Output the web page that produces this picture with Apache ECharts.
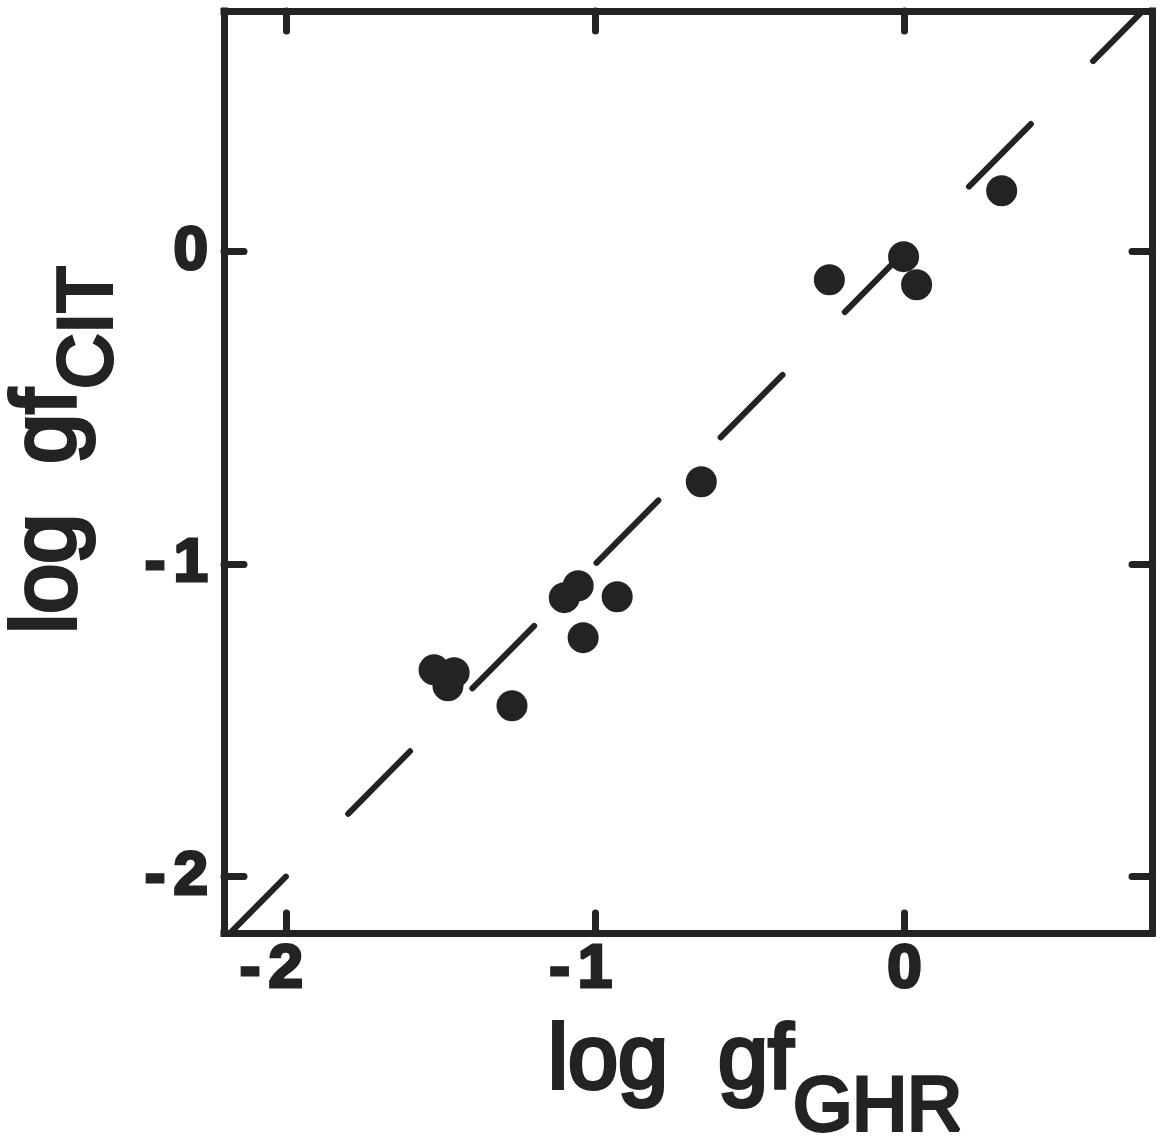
<!DOCTYPE html>
<html>
<head>
<meta charset="utf-8">
<script src="https://cdn.jsdelivr.net/npm/echarts@6/dist/echarts.min.js"></script>
<style>
html,body{margin:0;padding:0;background:#ffffff;}
#chart{width:1162px;height:1142px;}
</style>
</head>
<body>
<div id="chart"></div>
<script>
// ---- data ----
const xTickValues = [-2, -1, 0];
const yTickValues = [-2, -1, 0];
const xRange = [-2.2, 0.8];
const yRange = [-2.18, 0.77];
// log gf (GHR) vs log gf (CIT)
const logGfGHR = [0.314, -0.003, 0.039, -0.243, -0.657, -1.055, -1.100, -0.929, -1.039, -1.269, -1.521, -1.456, -1.476];
const logGfCIT = [0.195, -0.016, -0.106, -0.090, -0.736, -1.069, -1.107, -1.104, -1.235, -1.453, -1.338, -1.347, -1.389];
// equality line y = x
const equalityX = [-2.2, 0.8];

const INK = '#232323';
const FONT = '"Liberation Sans", Arial, sans-serif';

const points = logGfGHR.map((x, i) => [x, logGfCIT[i]]);
const lineData = equalityX.map(v => [v, v]);

function tickFmt(v) {
  if (v < 0) return '{m|-}{d|' + Math.abs(v) + '}{s| }';
  return '{d|' + v + '}';
}
const tickRich = {
  m: {fontSize: 62, fontWeight: 'bold', fontFamily: FONT, color: INK, lineHeight: 62, textBorderColor: INK, textBorderWidth: 3, padding: [0, 8, 0, 0]},
  d: {fontSize: 62, fontWeight: 'bold', fontFamily: FONT, color: INK, lineHeight: 62, textBorderColor: INK, textBorderWidth: 3},
  s: {fontSize: 62, fontWeight: 'bold', fontFamily: FONT, color: INK, lineHeight: 62, width: 29}
};
const tickRichY = {
  m: tickRich.m, d: tickRich.d
};
function tickFmtY(v) {
  if (v < 0) return '{m|-}{d|' + Math.abs(v) + '}';
  return '{d|' + v + '}';
}

const axisLineStyle = {color: INK, width: 7, cap: 'square'};
const tickStyle = {color: INK, width: 7, cap: 'round'};

const chart = echarts.init(document.getElementById('chart'), null, {renderer: 'canvas'});
chart.setOption({
  backgroundColor: '#ffffff',
  animation: false,
  grid: {left: 224, right: 10, top: 11, bottom: 209, containLabel: false, outerBoundsMode: 'none'},
  xAxis: [{
    type: 'value', position: 'bottom', min: xRange[0], max: xRange[1],
    axisLine: {show: true, onZero: false, lineStyle: axisLineStyle},
    axisTick: {show: true, inside: true, length: 20, customValues: xTickValues, lineStyle: tickStyle},
    axisLabel: {show: true, margin: 6, customValues: xTickValues, formatter: tickFmt, rich: tickRich},
    splitLine: {show: false},
    name: '{a|log  gf}{b|GHR}',
    nameLocation: 'middle',
    nameGap: 85,
    nameTextStyle: {
      padding: [0, 0, 0, 134],
      rich: {
        a: {fontSize: 90, fontFamily: FONT, color: INK, lineHeight: 100, verticalAlign: 'top', textBorderColor: INK, textBorderWidth: 4},
        b: {fontSize: 76, fontFamily: FONT, color: INK, lineHeight: 182, textBorderColor: INK, textBorderWidth: 4}
      }
    }
  }, {
    type: 'value', position: 'top', min: xRange[0], max: xRange[1],
    axisLine: {show: true, onZero: false, lineStyle: axisLineStyle},
    axisTick: {show: true, inside: true, length: 20, customValues: xTickValues, lineStyle: tickStyle},
    axisLabel: {show: false},
    splitLine: {show: false}
  }],
  yAxis: [{
    type: 'value', position: 'left', min: yRange[0], max: yRange[1],
    axisLine: {show: true, onZero: false, lineStyle: axisLineStyle},
    axisTick: {show: true, inside: true, length: 20, customValues: yTickValues, lineStyle: tickStyle},
    axisLabel: {show: true, margin: 16, customValues: yTickValues, formatter: tickFmtY, rich: tickRichY},
    splitLine: {show: false},
    name: '{a|log  gf}{b|CIT}',
    nameLocation: 'middle',
    nameRotate: 90,
    nameGap: 49,
    nameTextStyle: {
      padding: [0, 0, 0, 44],
      rich: {
        a: {fontSize: 90, fontFamily: FONT, color: INK, lineHeight: 100, verticalAlign: 'top', textBorderColor: INK, textBorderWidth: 4},
        b: {fontSize: 76, fontFamily: FONT, color: INK, lineHeight: 170, textBorderColor: INK, textBorderWidth: 4}
      }
    }
  }, {
    type: 'value', position: 'right', min: yRange[0], max: yRange[1],
    axisLine: {show: true, onZero: false, lineStyle: axisLineStyle},
    axisTick: {show: true, inside: true, length: 20, customValues: yTickValues, lineStyle: tickStyle},
    axisLabel: {show: false},
    splitLine: {show: false}
  }],
  series: [{
    type: 'line',
    data: lineData,
    xAxisIndex: 0, yAxisIndex: 0,
    symbol: 'none',
    clip: true,
    silent: true,
    lineStyle: {color: INK, width: 6, type: [88, 88.5], dashOffset: 0, cap: 'round'},
    z: 2
  }, {
    type: 'scatter',
    data: points,
    xAxisIndex: 0, yAxisIndex: 0,
    symbol: 'circle',
    symbolSize: 31,
    itemStyle: {color: INK, opacity: 1},
    z: 3
  }]
});
</script>
</body>
</html>
